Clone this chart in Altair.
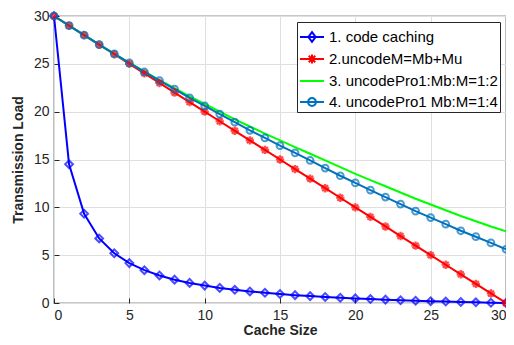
import altair as alt
import pandas as pd

cache_size = list(range(0, 31))
names = ["1. code caching", "2.uncodeM=Mb+Mu", "3. uncodePro1:Mb:M=1:2", "4. uncodePro1 Mb:M=1:4"]
colors = ["#0000FF", "#FF0000", "#00FF00", "#0072BD"]

s1 = [30, 14.5, 9.33, 6.75, 5.2, 4.17, 3.43, 2.88, 2.44, 2.1, 1.82, 1.58, 1.38, 1.21, 1.07,
      0.94, 0.82, 0.72, 0.63, 0.55, 0.48, 0.41, 0.35, 0.29, 0.24, 0.19, 0.15, 0.11, 0.07, 0.03, 0.0]
s2 = [30, 29, 28, 27, 26, 25, 24, 23, 22, 21, 20, 19, 18, 17, 16,
      15, 14, 13, 12, 11, 10, 9, 8, 7, 6, 5, 4, 3, 2, 1, 0]
s3 = [30, 29.0, 28.0, 27.0, 26.05, 25.1, 24.2, 23.3, 22.45, 21.6, 20.8, 20.0, 19.2, 18.45, 17.7,
      17.0, 16.3, 15.6, 14.9, 14.2, 13.5, 12.85, 12.2, 11.55, 10.9, 10.3, 9.7, 9.1, 8.55, 8.0, 7.5]
s4 = [30, 29, 28, 27, 26.05, 25.1, 24.15, 23.25, 22.35, 21.45, 20.6, 19.75, 18.9, 18.05, 17.25,
      16.45, 15.7, 14.9, 14.1, 13.3, 12.55, 11.8, 11.07, 10.34, 9.6, 8.93, 8.24, 7.55, 6.93, 6.28, 5.62]
series_values = [s1, s2, s3, s4]

rows = []
for name, vals in zip(names, series_values):
    for x, y in zip(cache_size, vals):
        rows.append({"x": x, "y": y, "series": name})
df = pd.DataFrame(rows)

tick_vals = [0, 5, 10, 15, 20, 25, 30]
W, H = 452, 287
FONT = "Liberation Sans"
TXT = "#262626"
GRID = "#DFDFDF"

xs = alt.Scale(domain=[0, 30], nice=False)
ys = alt.Scale(domain=[0, 30], nice=False)
color_scale = alt.Scale(domain=names, range=colors)

legend_paths = [
    "M-1,0L1,0M0,-0.4L0.3,0L0,0.4L-0.3,0Z",
    "M-1,0L1,0M0,-0.38L0,0.38M-0.38,0L0.38,0M-0.27,-0.27L0.27,0.27M-0.27,0.27L0.27,-0.27",
    "M-1,0L1,0",
    "M-1,0L1,0M0.33,0A0.33,0.33 0 1 1 -0.33,0A0.33,0.33 0 1 1 0.33,0",
]
star_path = "M0,-1L0,1M-1,0L1,0M-0.7,-0.7L0.7,0.7M-0.7,0.7L0.7,-0.7"

inward = alt.ExprRef(expr="-5")

X = alt.X("x:Q", scale=xs, title="Cache Size",
          axis=alt.Axis(values=tick_vals, orient="bottom", grid=True, gridColor=GRID,
                        domain=False, tickSize=inward, tickColor=TXT,
                        labelPadding=10, titlePadding=1))
Y = alt.Y("y:Q", scale=ys, title="Transmission Load",
          axis=alt.Axis(values=tick_vals, orient="left", grid=True, gridColor=GRID,
                        domain=False, tickSize=inward, tickColor=TXT,
                        labelPadding=10, titlePadding=8))

base = alt.Chart(df)

lines = base.mark_line(strokeWidth=2).encode(
    x=X, y=Y,
    color=alt.Color("series:N", scale=color_scale),
    order=alt.Order("x:Q"),
)

pts1 = base.transform_filter(alt.datum.series == names[0]).mark_point(
    shape="diamond", size=60, strokeWidth=2, filled=False, color=colors[0]
).encode(x=X, y=Y)

pts2 = base.transform_filter(alt.datum.series == names[1]).mark_point(
    shape=star_path, size=70, strokeWidth=2.2, filled=False, color=colors[1]
).encode(x=X, y=Y)

pts4 = base.transform_filter(alt.datum.series == names[3]).mark_point(
    shape="circle", size=45, strokeWidth=2, filled=False, color=colors[3]
).encode(x=X, y=Y)

legend_layer = base.mark_point(filled=False, opacity=0).encode(
    x=X, y=Y,
    color=alt.Color("series:N", scale=color_scale, title=None,
                    legend=alt.Legend(orient="top-right", offset=6, title=None,
                                      symbolOpacity=1, symbolSize=576, symbolStrokeWidth=2,
                                      labelFont=FONT, labelFontSize=15, labelColor="#000000",
                                      labelOffset=4, padding=2, rowPadding=0,
                                      fillColor="white", strokeColor="#262626",
                                      labelLimit=400)),
    shape=alt.Shape("series:N", scale=alt.Scale(domain=names, range=legend_paths), title=None),
)

chart = alt.layer(lines, pts1, pts2, pts4, legend_layer).properties(
    width=W, height=H,
    autosize=alt.AutoSizeParams(type="none"),
    padding={"left": 46, "top": 8, "right": 0, "bottom": 34},
).configure_axis(
    labelFont=FONT, labelFontSize=14, labelColor=TXT,
    titleFont=FONT, titleFontSize=14, titleFontWeight="bold", titleColor=TXT,
).configure_view(
    stroke="#262626", strokeWidth=1.2
)

chart.save("out.html", embed_options={"renderer": "svg", "actions": False})
